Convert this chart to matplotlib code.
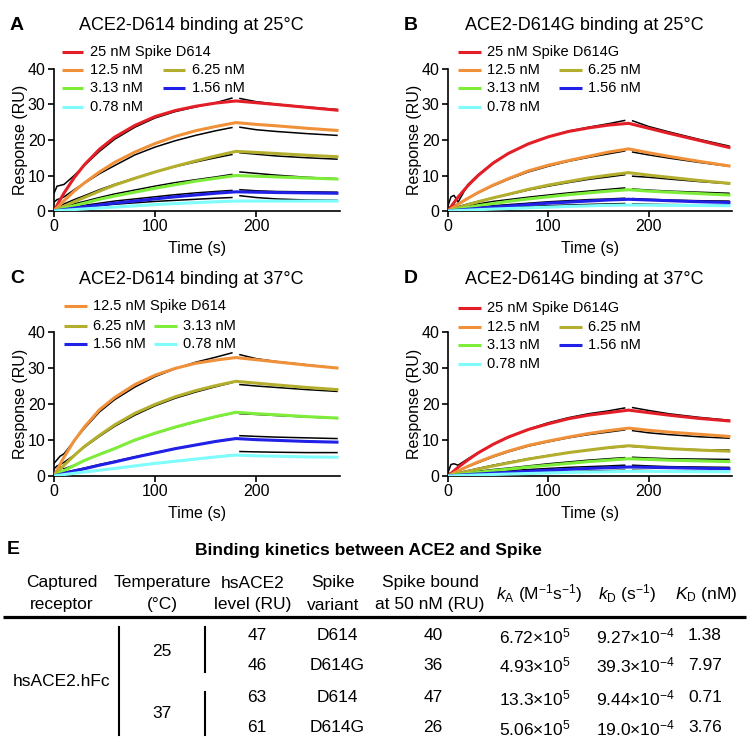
import matplotlib.pyplot as plt

plt.rcParams['font.family'] = ['Liberation Sans', 'DejaVu Sans']
plt.rcParams['mathtext.fontset'] = 'custom'
plt.rcParams['mathtext.rm'] = 'Liberation Sans'
plt.rcParams['mathtext.it'] = 'Liberation Sans:italic'

W, H = 750, 748

# time grids (s)
t_fit = [0, 5, 10, 20, 30, 45, 60, 80, 100, 120, 140, 160, 180, 200, 220, 250, 280]
t_on = [0, 3, 6, 10, 20, 30, 45, 60, 80, 100, 120, 140, 160, 176]
t_off = [184, 200, 220, 250, 280]

conc = ['25', '12.5', '6.25', '3.13', '1.56', '0.78']
colors = ['#e41e26', '#f0913a', '#b3ae2d', '#7ded3a', '#2020e6', '#7ffcfc']

# panel A: D614, 25 C  (fits = coloured, raw = black)
fit_a = [
    [0, 2.65, 5.1, 9.4, 13.0, 17.4, 20.8, 24.1, 26.6, 28.3, 29.5, 30.4, 31.0, 30.5, 30.0, 29.2, 28.4],
    [0, 1.5, 2.9, 5.6, 7.9, 11.0, 13.7, 16.6, 19.0, 21.0, 22.6, 23.8, 24.9, 24.4, 24.0, 23.3, 22.7],
    [0, 0.68, 1.3, 2.6, 3.8, 5.6, 7.3, 9.2, 11.0, 12.6, 14.1, 15.5, 16.8, 16.5, 16.2, 15.7, 15.3],
    [0, 0.38, 0.76, 1.5, 2.2, 3.3, 4.2, 5.3, 6.4, 7.4, 8.4, 9.2, 10.0, 9.8, 9.6, 9.3, 9.0],
    [0, 0.2, 0.4, 0.8, 1.2, 1.7, 2.2, 2.8, 3.4, 4.0, 4.5, 5.0, 5.4, 5.3, 5.2, 5.1, 5.0],
    [0, 0.1, 0.2, 0.4, 0.6, 0.85, 1.1, 1.45, 1.8, 2.1, 2.35, 2.6, 2.8, 2.8, 2.8, 2.8, 2.8],
]
raw_a = [
    [5.0, 7.0, 7.2, 7.5, 10.0, 12.8, 16.8, 20.2, 23.6, 26.2, 28.0, 29.3, 30.5, 31.8, 31.7, 30.8, 30.1, 29.3, 28.6],
    [2.5, 3.2, 3.5, 4.0, 6.0, 7.8, 10.5, 12.8, 15.8, 18.0, 19.8, 21.3, 22.6, 23.5, 23.6, 22.9, 22.4, 21.8, 21.3],
    [0.8, 1.2, 1.5, 2.0, 3.2, 4.3, 6.0, 7.5, 9.3, 11.0, 12.5, 13.8, 15.0, 15.9, 16.4, 16.0, 15.5, 15.0, 14.6],
    [0.3, 0.6, 0.9, 1.2, 2.0, 2.7, 3.8, 4.8, 5.9, 7.0, 8.0, 8.8, 9.6, 10.3, 11.0, 10.6, 10.1, 9.5, 9.1],
    [0.0, 0.3, 0.5, 0.7, 1.2, 1.6, 2.2, 2.8, 3.4, 4.0, 4.6, 5.1, 5.5, 5.8, 6.0, 5.7, 5.5, 5.4, 5.3],
    [0.0, 0.2, 0.3, 0.4, 0.8, 1.1, 1.5, 1.9, 2.3, 2.7, 3.0, 3.3, 3.6, 3.8, 4.3, 3.8, 3.4, 3.1, 3.0],
]

# panel B: D614G, 25 C
fit_b = [
    [0, 2.0, 3.9, 7.2, 10.0, 13.5, 16.2, 18.9, 20.9, 22.4, 23.4, 24.2, 24.7, 23.3, 21.9, 19.9, 17.9],
    [0, 0.96, 1.9, 3.6, 5.2, 7.3, 9.1, 11.3, 12.9, 14.2, 15.4, 16.6, 17.5, 16.4, 15.4, 14.0, 12.7],
    [0, 0.47, 0.92, 1.8, 2.6, 3.7, 4.7, 6.1, 7.3, 8.3, 9.3, 10.1, 10.8, 10.1, 9.5, 8.6, 7.8],
    [0, 0.25, 0.5, 1.0, 1.5, 2.1, 2.7, 3.4, 4.0, 4.6, 5.1, 5.6, 6.0, 5.6, 5.3, 4.9, 4.5],
    [0, 0.12, 0.25, 0.5, 0.75, 1.1, 1.4, 1.8, 2.2, 2.5, 2.8, 3.1, 3.3, 3.1, 2.9, 2.6, 2.4],
    [0, 0.06, 0.12, 0.25, 0.37, 0.55, 0.7, 0.9, 1.1, 1.3, 1.45, 1.6, 1.7, 1.65, 1.6, 1.55, 1.5],
]
raw_b = [
    [1.5, 4.0, 4.4, 2.5, 7.5, 10.2, 13.6, 16.2, 19.0, 20.9, 22.5, 23.6, 24.6, 25.5, 25.4, 23.8, 22.3, 20.2, 18.3],
    [0.8, 1.3, 1.6, 2.0, 3.6, 5.1, 7.1, 8.9, 11.0, 12.6, 14.0, 15.1, 16.1, 16.9, 16.6, 15.8, 14.9, 13.7, 12.6],
    [0.5, 0.8, 1.0, 1.2, 2.0, 2.7, 3.7, 4.6, 5.9, 7.0, 8.0, 8.9, 9.6, 10.2, 9.8, 9.5, 9.0, 8.3, 7.7],
    [0.3, 0.6, 0.8, 1.0, 1.5, 2.0, 2.7, 3.2, 3.9, 4.5, 5.1, 5.6, 6.1, 6.5, 6.2, 5.9, 5.6, 5.3, 5.0],
    [0.2, 0.4, 0.5, 0.6, 0.9, 1.1, 1.5, 1.8, 2.2, 2.6, 2.9, 3.2, 3.4, 3.6, 3.5, 3.3, 3.1, 2.9, 2.8],
    [0.0, 0.2, 0.3, 0.35, 0.5, 0.7, 0.9, 1.1, 1.3, 1.5, 1.7, 1.85, 2.0, 2.1, 2.0, 1.9, 1.8, 1.75, 1.7],
]

# panel C: D614, 37 C (no 25 nM)
fit_c = [
    [0, 2.7, 5.3, 9.8, 13.6, 18.4, 21.8, 25.4, 28.0, 29.9, 31.3, 32.2, 32.9, 32.3, 31.7, 30.8, 30.0],
    [0, 1.5, 3.0, 5.7, 8.2, 11.3, 14.2, 17.4, 19.9, 22.0, 23.7, 25.1, 26.3, 25.8, 25.3, 24.6, 24.0],
    [0, 0.77, 1.5, 2.9, 4.3, 6.0, 7.6, 10.0, 11.9, 13.6, 15.1, 16.5, 17.7, 17.3, 17.0, 16.5, 16.1],
    [0, 0.35, 0.7, 1.4, 2.0, 3.0, 3.9, 5.2, 6.4, 7.6, 8.6, 9.6, 10.4, 10.1, 9.9, 9.6, 9.4],
    [0, 0.2, 0.4, 0.75, 1.1, 1.6, 2.1, 2.8, 3.5, 4.1, 4.7, 5.3, 5.8, 5.6, 5.5, 5.3, 5.2],
]
raw_c = [
    [3.5, 4.5, 5.5, 6.2, 9.8, 13.2, 17.8, 21.2, 24.7, 27.6, 29.8, 31.6, 33.0, 34.2, 33.7, 32.6, 31.8, 30.9, 30.0],
    [2.0, 2.8, 3.2, 3.8, 5.8, 8.0, 11.0, 13.8, 16.9, 19.5, 21.6, 23.3, 24.8, 25.9, 25.4, 25.0, 24.6, 24.0, 23.5],
    [0.5, 1.5, 2.5, 2.0, 3.0, 4.3, 6.0, 7.7, 9.9, 11.8, 13.5, 15.0, 16.4, 17.4, 17.3, 17.1, 16.8, 16.4, 16.0],
    [0.2, 0.5, 0.8, 1.0, 1.6, 2.2, 3.2, 4.1, 5.3, 6.5, 7.6, 8.6, 9.6, 10.3, 11.2, 11.0, 10.8, 10.6, 10.4],
    [0.0, 0.2, 0.3, 0.4, 0.8, 1.1, 1.6, 2.1, 2.8, 3.5, 4.1, 4.7, 5.3, 5.8, 6.8, 6.7, 6.6, 6.5, 6.5],
]

# panel D: D614G, 37 C
fit_d = [
    [0, 1.2, 2.4, 4.5, 6.4, 8.8, 10.8, 12.9, 14.5, 15.9, 16.9, 17.6, 18.3, 17.6, 16.9, 16.0, 15.3],
    [0, 0.7, 1.4, 2.7, 3.9, 5.5, 6.9, 8.5, 9.7, 10.8, 11.8, 12.6, 13.3, 12.7, 12.2, 11.6, 11.0],
    [0, 0.35, 0.7, 1.3, 1.9, 2.8, 3.6, 4.7, 5.6, 6.5, 7.2, 7.9, 8.4, 8.0, 7.6, 7.2, 6.9],
    [0, 0.2, 0.4, 0.7, 1.0, 1.5, 1.9, 2.5, 3.0, 3.5, 4.0, 4.4, 4.8, 4.6, 4.4, 4.2, 4.0],
    [0, 0.1, 0.2, 0.4, 0.55, 0.8, 1.0, 1.3, 1.6, 1.85, 2.1, 2.3, 2.5, 2.4, 2.3, 2.15, 2.0],
    [0, 0.05, 0.1, 0.2, 0.3, 0.42, 0.55, 0.7, 0.85, 1.0, 1.1, 1.2, 1.3, 1.3, 1.25, 1.2, 1.2],
]
raw_d = [
    [1.0, 3.2, 3.4, 3.0, 4.8, 6.5, 8.8, 10.7, 13.0, 14.8, 16.2, 17.3, 18.1, 18.9, 19.0, 18.2, 17.3, 16.3, 15.5],
    [0.5, 0.9, 1.2, 1.5, 2.6, 3.7, 5.3, 6.7, 8.3, 9.5, 10.6, 11.5, 12.2, 12.8, 12.6, 12.0, 11.5, 10.9, 10.5],
    [0.3, 0.5, 0.7, 0.9, 1.5, 2.1, 3.0, 3.8, 4.8, 5.7, 6.5, 7.2, 7.8, 8.2, 8.2, 7.9, 7.6, 7.3, 7.2],
    [0.2, 0.4, 0.5, 0.7, 1.0, 1.3, 1.8, 2.2, 2.8, 3.4, 3.9, 4.4, 4.8, 5.1, 5.2, 5.0, 4.8, 4.7, 4.6],
    [0.1, 0.3, 0.4, 0.5, 0.7, 0.9, 1.2, 1.5, 1.8, 2.1, 2.4, 2.6, 2.8, 3.0, 3.0, 2.8, 2.6, 2.5, 2.4],
    [0.0, 0.1, 0.15, 0.2, 0.3, 0.4, 0.55, 0.7, 0.9, 1.05, 1.2, 1.35, 1.5, 1.6, 1.6, 1.5, 1.4, 1.3, 1.2],
]

# table E
tbl_header = [('Captured', 'receptor'), ('Temperature', '(°C)'), ('hsACE2', 'level (RU)'),
              ('Spike', 'variant'), ('Spike bound', 'at 50 nM (RU)')]
receptor = 'hsACE2.hFc'
temps = ['25', '37']
ace2_level = ['47', '46', '63', '61']
variants = ['D614', 'D614G', 'D614', 'D614G']
bound_50nm = ['40', '36', '47', '26']
ka_vals = ['6.72', '4.93', '13.3', '5.06']   # x10^5
kd_vals = ['9.27', '39.3', '9.44', '19.0']   # x10^-4
KD_vals = ['1.38', '7.97', '0.71', '3.76']

fig = plt.figure(figsize=(7.5, 7.48), dpi=100)
over = fig.add_axes([0, 0, 1, 1])
over.set_xlim(0, W)
over.set_ylim(H, 0)
over.axis('off')
over.set_zorder(10)

two_col = [(0, 0), (1, 0), (1, 1), (2, 0), (2, 1), (3, 0)]
panels = [
    # letter, title, box(l,t,r,b), fits, raws, first conc idx, variant, legend rows y, col x's
    ('A', 'ACE2-D614 binding at 25°C', (54, 69, 340, 211), fit_a, raw_a, 0, 'D614',
     [52, 70, 88, 107], [(62, 83, 90), (163, 185, 192)], two_col),
    ('B', 'ACE2-D614G binding at 25°C', (448, 69, 732, 211), fit_b, raw_b, 0, 'D614G',
     [52, 70, 88, 107], [(458, 481, 487), (559, 582, 588)], two_col),
    ('C', 'ACE2-D614 binding at 37°C', (54, 332, 340, 476), fit_c, raw_c, 1, 'D614',
     [306, 326, 344], [(64, 87, 93), (154, 177, 183)], two_col[:5]),
    ('D', 'ACE2-D614G binding at 37°C', (448, 332, 732, 476), fit_d, raw_d, 0, 'D614G',
     [308, 327, 345, 364], [(458, 481, 487), (559, 582, 588)], two_col),
]

n_on = len(t_on)
for letter, title, (l, t, r, b), fits, raws, c0, variant, rows, cols, layout in panels:
    ax = fig.add_axes([l / W, 1 - b / H, (r - l) / W, (b - t) / H])
    for k in range(len(fits)):
        ci = c0 + k
        ax.plot(t_on, raws[k][:n_on], color='black', lw=1.1, zorder=2)
        ax.plot(t_off, raws[k][n_on:], color='black', lw=1.1, zorder=2)
        ax.plot(t_fit, fits[k], color=colors[ci], lw=2.2, zorder=3)
        # legend entry
        rr, cc = layout[k]
        hx0, hx1, tx = cols[cc]
        yy = rows[rr]
        over.plot([hx0, hx1], [yy, yy], color=colors[ci], lw=2.2, solid_capstyle='butt')
        lab = conc[ci] + ' nM' + (' Spike ' + variant if k == 0 else '')
        over.text(tx, yy, lab, fontsize=10.5, ha='left', va='center')
    ax.set_xlim(0, 283)
    ax.set_ylim(0, 40)
    ax.set_xticks([0, 100, 200])
    ax.set_yticks([0, 10, 20, 30, 40])
    for s in ['top', 'right']:
        ax.spines[s].set_visible(False)
    for s in ['left', 'bottom']:
        ax.spines[s].set_linewidth(1.2)
    ax.tick_params(direction='out', length=4, width=1.2, labelsize=11.5, pad=2)
    ax.set_xlabel('Time (s)', fontsize=11.5, labelpad=5)
    ax.set_ylabel('Response (RU)', fontsize=11.5, labelpad=0)
    over.text(l - 44, t - 44 if t < 100 else t - 54, letter, fontsize=14, fontweight='bold',
              ha='left', va='center')
    over.text((l + r) / 2 - 6, t - 44 if t < 100 else t - 53, title, fontsize=13,
              ha='center', va='center')

# ---- table E ----
over.text(7, 549, 'E', fontsize=14, fontweight='bold', ha='left', va='center')
over.text(368, 551, 'Binding kinetics between ACE2 and Spike', fontsize=12.5,
          fontweight='bold', ha='center', va='center')
hx = [62, 162, 253, 333, 430]
for x, (h1, h2) in zip(hx, tbl_header):
    over.text(x, 583, h1, fontsize=12.5, ha='center', va='center')
    over.text(x, 605, h2, fontsize=12.5, ha='center', va='center')
over.text(539, 594, r'$\mathit{k}_\mathrm{A}$ (M$^{-1}$s$^{-1}$)', fontsize=12.5, ha='center', va='center')
over.text(627, 594, r'$\mathit{k}_\mathrm{D}$ (s$^{-1}$)', fontsize=12.5, ha='center', va='center')
over.text(706, 594, r'$\mathit{K}_\mathrm{D}$ (nM)', fontsize=12.5, ha='center', va='center')
over.plot([3, 746], [617, 617], color='black', lw=2.3, solid_capstyle='butt')

row_y = [636, 665, 698, 728]
over.text(62, 682, receptor, fontsize=12.5, ha='center', va='center')
over.text(162, 652, temps[0], fontsize=12.5, ha='center', va='center')
over.text(162, 713, temps[1], fontsize=12.5, ha='center', va='center')
over.plot([119, 119], [627, 735], color='black', lw=1.5)
over.plot([205, 205], [627, 672], color='black', lw=1.5)
over.plot([205, 205], [692, 735], color='black', lw=1.5)
for i, y in enumerate(row_y):
    over.text(257, y, ace2_level[i], fontsize=12.5, ha='center', va='center')
    over.text(337, y, variants[i], fontsize=12.5, ha='center', va='center')
    over.text(433, y, bound_50nm[i], fontsize=12.5, ha='center', va='center')
    over.text(535, y, ka_vals[i] + '×10$^{5}$', fontsize=12.5, ha='center', va='center')
    over.text(635, y, kd_vals[i] + '×10$^{-4}$', fontsize=12.5, ha='center', va='center')
    over.text(705, y, KD_vals[i], fontsize=12.5, ha='center', va='center')

fig.savefig('out.png', dpi=100)
